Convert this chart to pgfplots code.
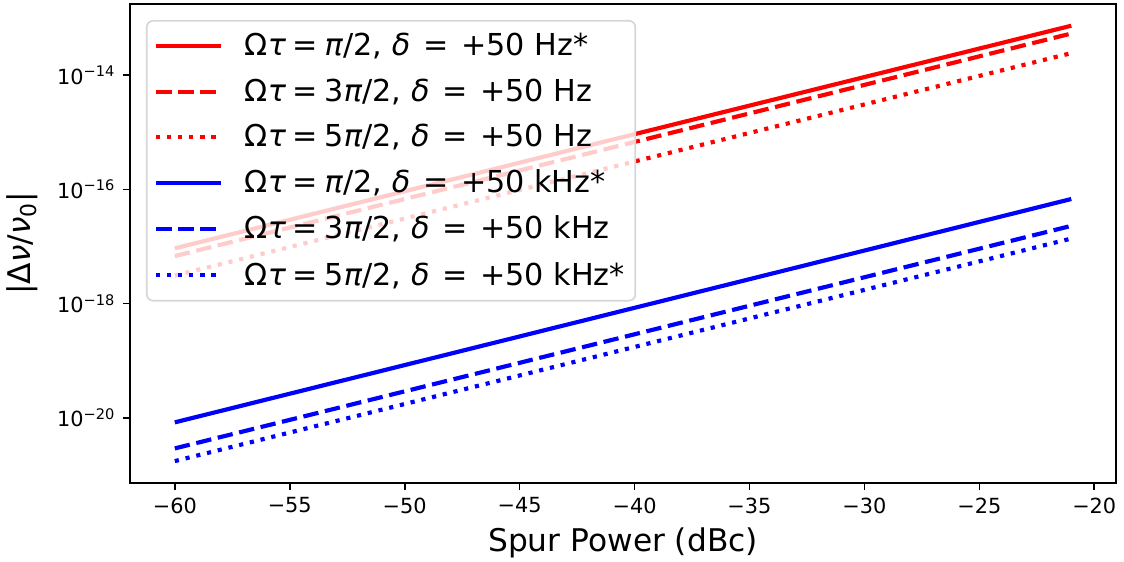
\documentclass[border=0pt]{standalone}
\usepackage{fontspec}
\setmainfont{DejaVu Sans}
\usepackage{pgfplots}
\pgfplotsset{compat=1.18}
\newcommand\meq{\hspace{0.22em}=\hspace{0.22em}}
\newcommand\teq{\hspace{0.42em}=\hspace{0.42em}}
\begin{document}
\begin{tikzpicture}
\useasboundingbox (-62.4pt,-37.9pt) rectangle (477.1pt,231.8pt);
\begin{axis}[
 scale only axis, width=473.3pt, height=229.9pt,
 at={(0pt,0pt)}, anchor=south west,
 ymode=log, xmin=-61.95, xmax=-19.05, ymin=7.2e-22, ymax=1.78e-13,
 xtick={-60,-55,...,-20},
 xticklabels={−60,−55,−50,−45,−40,−35,−30,−25,−20},
 ytick={1e-20,1e-18,1e-16,1e-14},
 yticklabels={10\textsuperscript{−20},10\textsuperscript{−18},10\textsuperscript{−16},10\textsuperscript{−14}},
 yminorticks=false, xminorticks=false,
 tick align=outside, tick pos=left, major tick length=3.5pt,
 every tick/.style={black, line width=0.8pt},
 axis line style={line width=0.8pt},
 tick label style={font=\fontsize{10}{12}\selectfont},
 xlabel={Spur Power (dBc)},
 ylabel={|Δ\textit{ν}/\textit{ν}\textsubscript{0}|},
 every axis x label/.style={at={(axis description cs:0.5,-0.1253)}, anchor=center, font=\fontsize{15}{18}\selectfont},
 every axis y label/.style={at={(axis description cs:-0.1095,0.5)}, rotate=90, anchor=center, font=\fontsize{15}{18}\selectfont},
 legend cell align=left,
 legend image code/.code={\draw[#1] (0pt,0pt) -- (31pt,0pt);},
 legend style={at={(axis description cs:0.0162,0.9666)}, anchor=north west,
   fill=white, fill opacity=0.8, draw opacity=1, text opacity=1,
   draw=black!16, line width=0.8pt, rounded corners=3pt,
   font=\fontsize{14.5}{17}\selectfont, row sep=6.6pt, column sep=9pt, inner xsep=3.5pt, inner ysep=4.5pt,
   nodes={inner sep=1.5pt}},
]
\addplot[red, line width=2pt] coordinates {(-60,9.3e-18) (-21,7.4e-14)};
\addlegendentry{Ω\textit{τ}\meq\textit{π}/2, \textit{δ}\teq+50 Hz*}
\addplot[red, line width=2pt, dash pattern=on 7.4pt off 3.2pt] coordinates {(-60,6.8e-18) (-21,5.4e-14)};
\addlegendentry{Ω\textit{τ}\meq3\textit{π}/2, \textit{δ}\teq+50 Hz}
\addplot[red, line width=2pt, dash pattern=on 2pt off 3.3pt] coordinates {(-60,3.1e-18) (-21,2.45e-14)};
\addlegendentry{Ω\textit{τ}\meq5\textit{π}/2, \textit{δ}\teq+50 Hz}
\addplot[blue, line width=2pt] coordinates {(-60,8.3e-21) (-21,6.8e-17)};
\addlegendentry{Ω\textit{τ}\meq\textit{π}/2, \textit{δ}\teq+50 kHz*}
\addplot[blue, line width=2pt, dash pattern=on 7.4pt off 3.2pt] coordinates {(-60,2.9e-21) (-21,2.3e-17)};
\addlegendentry{Ω\textit{τ}\meq3\textit{π}/2, \textit{δ}\teq+50 kHz}
\addplot[blue, line width=2pt, dash pattern=on 2pt off 3.3pt] coordinates {(-60,1.74e-21) (-21,1.38e-17)};
\addlegendentry{Ω\textit{τ}\meq5\textit{π}/2, \textit{δ}\teq+50 kHz*}
\end{axis}
\end{tikzpicture}
\end{document}
